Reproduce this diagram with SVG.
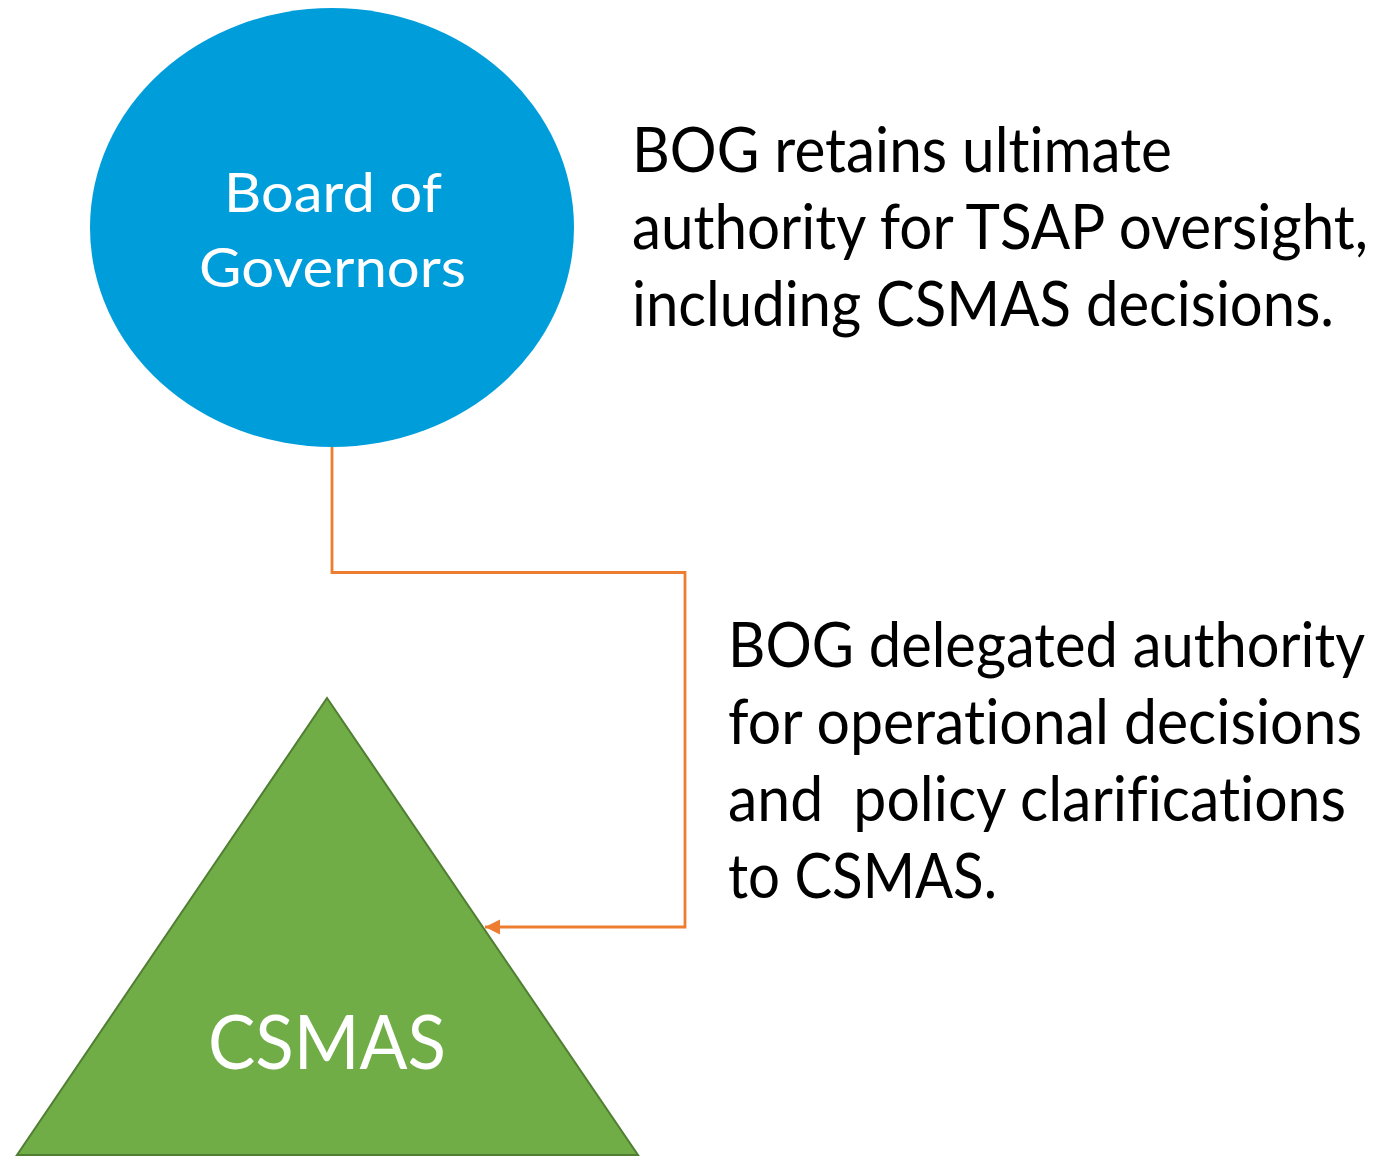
<svg xmlns="http://www.w3.org/2000/svg" width="1381" height="1158" viewBox="0 0 1381 1158">
  <style>
    .lbl { font-family: Lato, "Open Sans", "Liberation Sans", sans-serif; font-variant-ligatures: none; font-feature-settings: "liga" 0, "clig" 0; }
    .note { font-size: 62px; fill: #000000; }
    .inner { fill: #FFFFFF; text-anchor: middle; }
    .link { fill: none; stroke: #ED7D31; stroke-width: 2.8; }
  </style>
  <defs>
    <marker id="arrow" viewBox="0 0 10 10" refX="10" refY="5" markerWidth="5.5" markerHeight="5.5" markerUnits="strokeWidth" orient="auto">
      <path d="M0,0 L10,5 L0,10 Z" fill="#ED7D31"/>
    </marker>
  </defs>

  <rect width="1381" height="1158" fill="#FFFFFF"/>

  <g id="connectors">
    <path class="link" d="M332,447 V572.5 H685 V927 H485" marker-end="url(#arrow)"/>
  </g>

  <g id="node-bog">
    <ellipse cx="332" cy="227.5" rx="242" ry="219.5" fill="#009DDB"/>
    <text class="lbl inner" x="333" y="212" font-size="54" textLength="218" lengthAdjust="spacingAndGlyphs">Board of</text>
    <text class="lbl inner" x="332.5" y="287" font-size="54" textLength="267" lengthAdjust="spacingAndGlyphs">Governors</text>
  </g>

  <g id="node-csmas">
    <polygon points="327,698 638,1155 17,1155" fill="#70AD47" stroke="#507E32" stroke-width="2" stroke-linejoin="miter"/>
    <text class="lbl inner" x="327" y="1069" font-size="75" textLength="238" lengthAdjust="spacingAndGlyphs">CSMAS</text>
  </g>

  <g id="note-oversight" class="lbl note">
    <text x="632" y="172" textLength="540" lengthAdjust="spacingAndGlyphs">BOG retains ultimate</text>
    <text x="632" y="249" textLength="736" lengthAdjust="spacingAndGlyphs">authority for TSAP oversight,</text>
    <text x="632" y="326" textLength="702" lengthAdjust="spacingAndGlyphs">including CSMAS decisions.</text>
  </g>

  <g id="note-delegation" class="lbl note">
    <text x="728" y="667" textLength="637" lengthAdjust="spacingAndGlyphs">BOG delegated authority</text>
    <text x="728" y="744" textLength="634" lengthAdjust="spacingAndGlyphs">for operational decisions</text>
    <text x="728" y="821" textLength="618" lengthAdjust="spacingAndGlyphs" xml:space="preserve">and  policy clarifications</text>
    <text x="728" y="898" textLength="269" lengthAdjust="spacingAndGlyphs">to CSMAS.</text>
  </g>
</svg>
